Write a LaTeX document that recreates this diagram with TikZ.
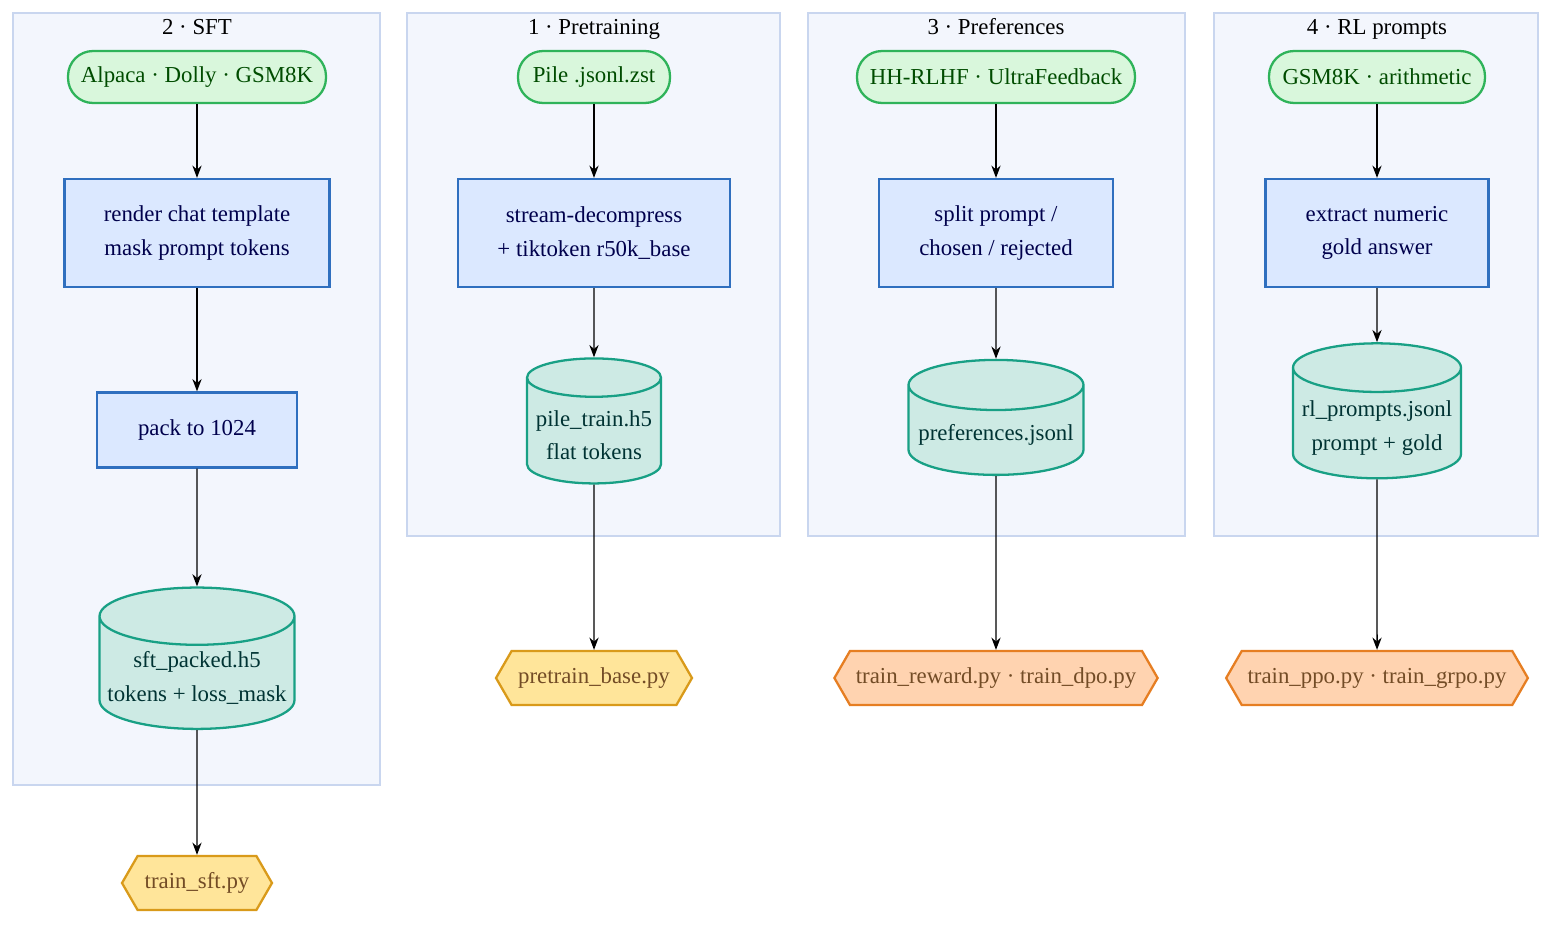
\documentclass[tikz,border=0pt]{standalone}
\usepackage{fontspec}
\setmainfont{Liberation Serif}
\usetikzlibrary{positioning,shapes.geometric,shapes.symbols,arrows.meta}
\definecolor{srcfill}{HTML}{D9F7DC}\definecolor{srcdraw}{HTML}{2FB35A}
\definecolor{opfill}{HTML}{DBE8FF}\definecolor{opdraw}{HTML}{2F6FBF}
\definecolor{dbfill}{HTML}{CDEAE4}\definecolor{dbdraw}{HTML}{18A085}
\definecolor{yfill}{HTML}{FFE59A}\definecolor{ydraw}{HTML}{D99A1A}
\definecolor{ofill}{HTML}{FFD3B0}\definecolor{odraw}{HTML}{E67E22}
\definecolor{clfill}{HTML}{F3F6FD}\definecolor{cldraw}{HTML}{C9D6EF}
\begin{document}
\begin{tikzpicture}[x=0.02cm, y=-0.02cm, font=\fontsize{13}{19}\selectfont,
  cluster/.style = {draw=cldraw, fill=clfill, line width=1pt},
  title/.style = {text height=9pt, text depth=3pt},
  source/.style = {draw=srcdraw, fill=srcfill, line width=1.3pt, rounded corners=0.5cm, minimum height=1.04cm, text=green!30!black},
  op/.style = {draw=opdraw, fill=opfill, line width=1.3pt, align=center, text=blue!30!black},
  db/.style = {draw=dbdraw, fill=dbfill, line width=1.3pt, cylinder, shape border rotate=90, aspect=0.3, align=center, text=teal!40!black},
  script/.style = {signal, signal to=east and west, signal pointer angle=120, line width=1.3pt, minimum height=1.08cm, text=brown!60!black},
  flow/.style = {-{Stealth[length=7pt]}, line width=0.8pt}]
\useasboundingbox (0,0) rectangle (1568,936);
% clusters
\draw[cluster] (13,13) rectangle (380,785);
\draw[cluster] (407,13) rectangle (780,536);
\draw[cluster] (808,13) rectangle (1185,536);
\draw[cluster] (1214,13) rectangle (1538,536);
\node[title] (tsft) at (197,29) {2 · SFT};
\node[title] (tpre) at (594,29) {1 · Pretraining};
\node[title] (tpref) at (996,29) {3 · Preferences};
\node[title] (trl) at (1377,29) {4 · RL prompts};
% SFT
\node[source, minimum width=5.16cm] (sftsrc) at (197,77) {Alpaca · Dolly · GSM8K};
\node[op, minimum width=5.3cm, minimum height=2.16cm] (sftfmt) at (197,233) {render chat template\\mask prompt tokens};
\node[op, minimum width=4cm, minimum height=1.5cm] (sftpack) at (197,430) {pack to 1024};
\node[db, minimum width=3.9cm, minimum height=2.8cm] (sftdb) at (197,678) {sft\_packed.h5\\tokens + loss\_mask};
\node[script, draw=ydraw, fill=yfill, minimum width=3cm] (sftpy) at (197,883) {train\_sft.py};
% Pretraining
\node[source, minimum width=3.04cm] (presrc) at (594,77) {Pile .jsonl.zst};
\node[op, minimum width=5.44cm, minimum height=2.16cm] (prefmt) at (594,233) {stream-decompress\\+ tiktoken r50k\_base};
\node[db, minimum width=2.68cm, minimum height=2.5cm] (predb) at (594,435) {pile\_train.h5\\flat tokens};
\node[script, draw=ydraw, fill=yfill, minimum width=3.92cm] (prepy) at (594,678) {pretrain\_base.py};
% Preferences
\node[source, minimum width=5.56cm] (prefsrc) at (996,77) {HH-RLHF · UltraFeedback};
\node[op, minimum width=4.68cm, minimum height=2.16cm] (preffmt) at (996,233) {split prompt /\\chosen / rejected};
\node[db, minimum width=3.5cm, minimum height=2.3cm] (prefdb) at (996,435) {preferences.jsonl};
\node[script, draw=odraw, fill=ofill, minimum width=6.36cm] (prefpy) at (996,678) {train\_reward.py · train\_dpo.py};
% RL prompts
\node[source, minimum width=4.32cm] (rlsrc) at (1377,77) {GSM8K · arithmetic};
\node[op, minimum width=4.46cm, minimum height=2.16cm] (rlfmt) at (1377,233) {extract numeric\\gold answer};
\node[db, minimum width=3.36cm, minimum height=2.7cm] (rldb) at (1377,428) {rl\_prompts.jsonl\\prompt + gold};
\node[script, draw=odraw, fill=ofill, minimum width=6cm] (rlpy) at (1377,678) {train\_ppo.py · train\_grpo.py};
% edges
\draw[flow] (sftsrc) -- (sftfmt);
\draw[flow] (sftfmt) -- (sftpack);
\draw[flow] (sftpack) -- (sftdb);
\draw[flow] (sftdb) -- (sftpy);
\draw[flow] (presrc) -- (prefmt);
\draw[flow] (prefmt) -- (predb);
\draw[flow] (predb) -- (prepy);
\draw[flow] (prefsrc) -- (preffmt);
\draw[flow] (preffmt) -- (prefdb);
\draw[flow] (prefdb) -- (prefpy);
\draw[flow] (rlsrc) -- (rlfmt);
\draw[flow] (rlfmt) -- (rldb);
\draw[flow] (rldb) -- (rlpy);
\end{tikzpicture}
\end{document}
